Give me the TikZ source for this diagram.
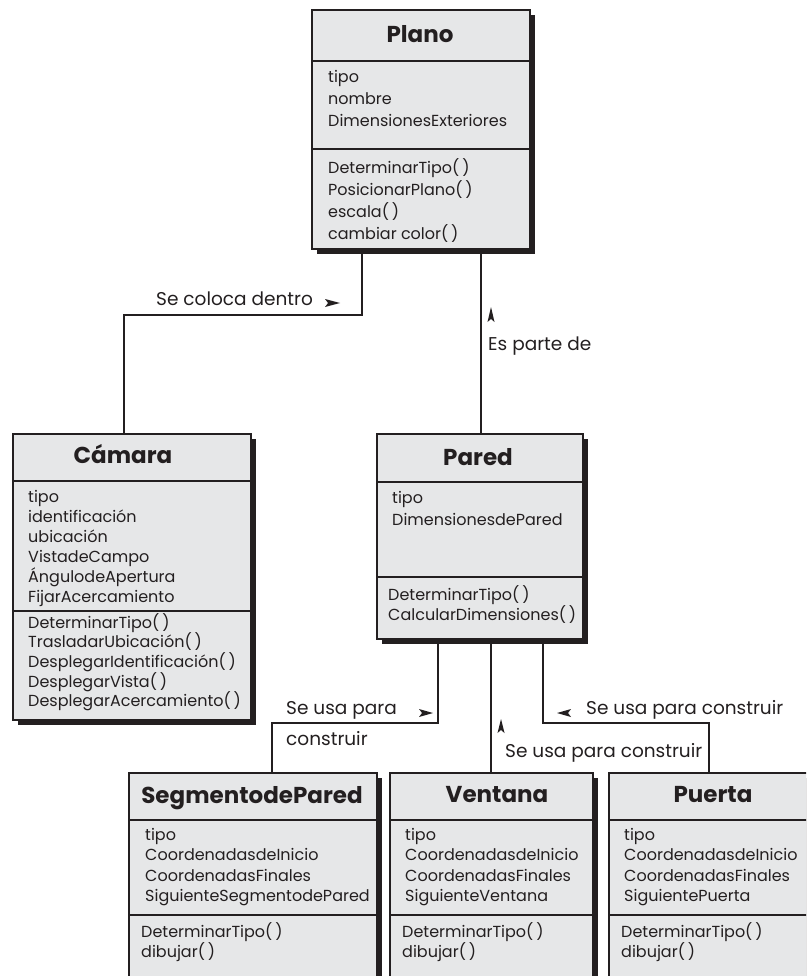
\documentclass[tikz,border=0pt]{standalone}
\usepackage{fontspec}
\setmainfont{Poppins}
\usetikzlibrary{shadows,backgrounds}
\definecolor{boxgray}{HTML}{E6E7E8}
\definecolor{ink}{HTML}{231F20}
\newcommand\bodyfont{\fontsize{16}{20}\selectfont}
\newcommand\titlefont{\fontsize{23}{26}\selectfont\bfseries}
\newcommand\labelfont{\fontsize{18.5}{22}\selectfont}
\newcommand\pp{(\kern2.8pt)}
\begin{document}
\begin{tikzpicture}[x=1pt,y=-1pt,
 classbox/.style={draw=ink, line width=2.4pt, fill=boxgray, anchor=north west, inner sep=0,
   drop shadow={shadow xshift=5pt, shadow yshift=-5pt, fill=ink, opacity=1}},
 divider/.style={draw=ink, line width=2.2pt},
 conn/.style={draw=ink, line width=2pt},
 txt/.style={anchor=base west, inner sep=0, font=\bodyfont, text=ink},
 ttl/.style={anchor=base, inner sep=0, font=\titlefont, text=ink},
 lbl/.style={anchor=base west, inner sep=0, font=\labelfont, text=ink}]
\useasboundingbox (0,0) rectangle (806,976);
\clip (0,0) rectangle (806,976);

% class boxes
\node[classbox, minimum width=218, minimum height=239] (plano) at (311,9) {};
\node[classbox, minimum width=238, minimum height=286] (camara) at (12,433) {};
\node[classbox, minimum width=206, minimum height=205] (pared) at (376,433) {};
\node[classbox, minimum width=248, minimum height=230] (seg) at (128,772) {};
\node[classbox, minimum width=203, minimum height=230] (ven) at (389,772) {};
\node[classbox, minimum width=210, minimum height=230] (pue) at (608,772) {};

% dividers
\draw[divider] (plano.west |- 0,61) -- (plano.east |- 0,61);
\draw[divider] (plano.west |- 0,149) -- (plano.east |- 0,149);
\draw[divider] (camara.west |- 0,481) -- (camara.east |- 0,481);
\draw[divider] (camara.west |- 0,611) -- (camara.east |- 0,611);
\draw[divider] (pared.west |- 0,482) -- (pared.east |- 0,482);
\draw[divider] (pared.west |- 0,577) -- (pared.east |- 0,577);
\draw[divider] (seg.west |- 0,820) -- (seg.east |- 0,820);
\draw[divider] (seg.west |- 0,915) -- (seg.east |- 0,915);
\draw[divider] (ven.west |- 0,820) -- (ven.east |- 0,820);
\draw[divider] (ven.west |- 0,915) -- (ven.east |- 0,915);
\draw[divider] (pue.west |- 0,820) -- (pue.east |- 0,820);
\draw[divider] (pue.west |- 0,915) -- (pue.east |- 0,915);

% titles
\node[ttl] (planoT) at (420,43) {Plano};
\node[ttl] (camaraT) at (123,463) {Cámara};
\node[ttl] (paredT) at (478,465) {Pared};
\node[ttl] (segT) at (252,803) {SegmentodePared};
\node[ttl] (venT) at (497,802) {Ventana};
\node[ttl] (pueT) at (713,802) {Puerta};

% Plano
\foreach \s [count=\i from 0] in {tipo,nombre,DimensionesExteriores}
  \node[txt] (plA\i) at (328,83+22*\i) {\s};
\foreach \s [count=\i from 0] in {DeterminarTipo\pp,PosicionarPlano\pp,escala\pp,cambiar color\pp}
  \node[txt] (plM\i) at (328,174+22*\i) {\s};
% Camara
\foreach \s [count=\i from 0] in {tipo,identificación,ubicación,VistadeCampo,ÁngulodeApertura,FijarAcercamiento}
  \node[txt] (caA\i) at (28,502+20*\i) {\s};
\foreach \s [count=\i from 0] in {DeterminarTipo\pp,TrasladarUbicación\pp,DesplegarIdentificación\pp,DesplegarVista\pp,DesplegarAcercamiento\pp}
  \node[txt] (caM\i) at (28,628+19.7*\i) {\s};
% Pared
\foreach \s [count=\i from 0] in {tipo,DimensionesdePared}
  \node[txt] (paA\i) at (392,503+22*\i) {\s};
\foreach \s [count=\i from 0] in {DeterminarTipo\pp,CalcularDimensiones\pp}
  \node[txt] (paM\i) at (388,600+20.5*\i) {\s};
% Segmento
\foreach \s [count=\i from 0] in {tipo,CoordenadasdeInicio,CoordenadasFinales,SiguienteSegmentodePared}
  \node[txt] (sgA\i) at (145,840+20.5*\i) {\s};
\foreach \s [count=\i from 0] in {DeterminarTipo\pp,dibujar\pp}
  \node[txt] (sgM\i) at (141,937+20.5*\i) {\s};
% Ventana
\foreach \s [count=\i from 0] in {tipo,CoordenadasdeInicio,CoordenadasFinales,SiguienteVentana}
  \node[txt] (veA\i) at (405,840+20.5*\i) {\s};
\foreach \s [count=\i from 0] in {DeterminarTipo\pp,dibujar\pp}
  \node[txt] (veM\i) at (402,937+20.5*\i) {\s};
% Puerta
\foreach \s [count=\i from 0] in {tipo,CoordenadasdeInicio,CoordenadasFinales,SiguientePuerta}
  \node[txt] (puA\i) at (624,840+20.5*\i) {\s};
\foreach \s [count=\i from 0] in {DeterminarTipo\pp,dibujar\pp}
  \node[txt] (puM\i) at (621,937+20.5*\i) {\s};

% labels
\node[lbl] (l1) at (156,305) {Se coloca dentro};
\node[lbl] (l2) at (488,350) {Es parte de};
\node[lbl] (l3) at (286,714) {Se usa para};
\node[lbl] (l4) at (286,745) {construir};
\node[lbl] (l5) at (505,757) {Se usa para construir};
\node[lbl] (l6) at (586,714) {Se usa para construir};

% small arrow markers
\fill[ink] (325,299) -- (340,303) -- (325,307) -- (328,303) -- cycle;
\fill[ink] (487.5,322) -- (491,307) -- (494.5,322) -- (491,319) -- cycle;
\fill[ink] (419,709) -- (433,713) -- (419,717) -- (422,713) -- cycle;
\fill[ink] (497.5,733) -- (501,719) -- (504.5,733) -- (501,730) -- cycle;
\fill[ink] (571,709) -- (557,713) -- (571,717) -- (568,713) -- cycle;

% connectors (behind boxes)
\begin{scope}[on background layer]
\draw[conn] (plano.south -| 362,0) |- (124,315) -- (camara.north -| 124,0);
\draw[conn] (plano.south -| 481,0) -- (pared.north -| 481,0);
\draw[conn] (pared.south -| 438,0) |- (272,723) -- (seg.north -| 272,0);
\draw[conn] (pared.south -| 491,0) -- (ven.north -| 491,0);
\draw[conn] (pared.south -| 543,0) |- (709,723) -- (pue.north -| 709,0);
\end{scope}
\end{tikzpicture}
\end{document}
